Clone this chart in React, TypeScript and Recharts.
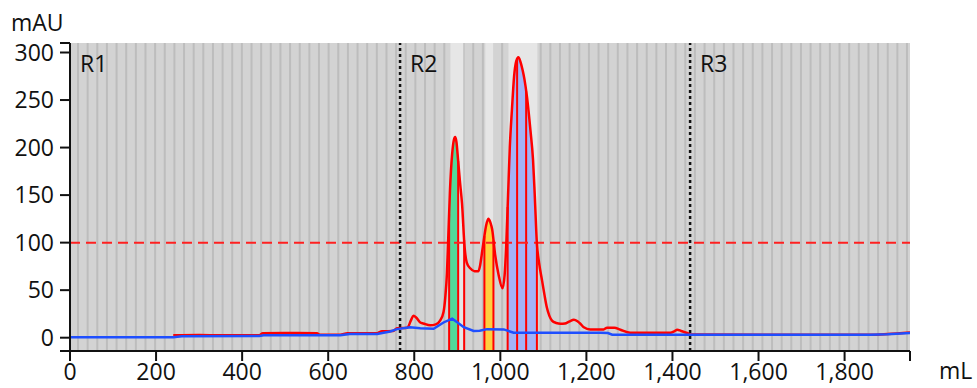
import { Area, ComposedChart, Line, ReferenceArea, ReferenceLine, XAxis, YAxis } from "recharts";

// UV trace (red), mL vs mAU
const uvMl = [
  240, 300, 350, 400, 440, 448, 500, 574, 580, 628, 645, 714, 725, 751, 760, 784, 792, 798, 805, 814,
  821, 837, 850, 860, 868, 872, 876, 879, 883, 888, 892, 895, 898, 902, 906, 911, 917, 922, 930, 940,
  949, 953, 957, 962, 967, 972, 977, 981, 988, 996, 1005, 1010, 1014, 1018, 1022, 1027, 1032, 1037,
  1042, 1047, 1052, 1056, 1062, 1070, 1076, 1080, 1085, 1090, 1097, 1103, 1108, 1114, 1120, 1130,
  1140, 1150, 1160, 1171, 1180, 1186, 1194, 1209, 1240, 1248, 1265, 1279, 1302, 1395, 1405, 1411,
  1420, 1434, 1442, 1860, 1900, 1952,
];
const uvMau = [
  2.5, 2.8, 2.5, 2.7, 2.6, 4.8, 5, 4.8, 3.2, 3.1, 4.8, 4.8, 6.8, 7, 10, 10.5, 18, 23, 21, 16,
  15, 13, 14, 18, 27, 42, 68, 105, 155, 193, 208, 211, 206, 186, 165, 141, 95, 79, 73, 70,
  70, 76, 88, 104, 118, 125, 121, 114, 87, 66, 52, 66, 100, 150, 200, 240, 275, 291,
  295, 290, 281, 272, 253, 218, 187, 150, 99, 79, 60, 44, 32, 23, 18, 15.5,
  14.7, 15, 17, 19, 17, 14.7, 11, 8.7, 8.7, 10.5, 10.5, 8.4, 5.3, 5.3, 7, 8.4,
  7, 5, 3.3, 3, 3.8, 5.5,
];

// second trace (blue)
const condMl = [0, 240, 260, 440, 450, 628, 650, 714, 744, 760, 790, 814, 845, 868, 888, 899, 915, 938, 952, 969, 1008, 1031, 1233, 1250, 1260, 1860, 1900, 1952];
const condMau = [0.4, 0.4, 1.5, 1.8, 2.5, 2.5, 3.8, 3.8, 6.5, 9, 11, 10, 9.4, 16, 20, 16.4, 11, 7, 7.4, 9, 8.7, 5.2, 5.2, 4.9, 3.1, 3, 3.5, 5];

const xTicks = [0, 200, 400, 600, 800, 1000, 1200, 1400, 1600, 1800];
const yTicks = [0, 50, 100, 150, 200, 250, 300];

const pooledBands = [
  [884, 914],
  [965, 984],
  [1019, 1086],
];
const peakFills = [
  { from: 881, to: 902, color: "#52d99a" },
  { from: 963, to: 984, color: "#ffcf3f" },
  { from: 1017, to: 1085, color: "#a3b3f7" },
];
const cutMl = [881, 902, 916, 963, 984, 1017, 1039, 1060, 1085];
const regions = [
  { label: "R1", ml: 0 },
  { label: "R2", ml: 767 },
  { label: "R3", ml: 1441 },
];
const THRESHOLD = 100;

const FRACTION_START = 18.6;
const FRACTION_SIZE = 22.4;
const X_MAX = 1952;
const Y_MIN = -14;
const Y_MAX = 310;

const FONT = "'Open Sans', 'Noto Sans', sans-serif";
const FONT_SIZE = 23;

const uvData = uvMl.map((ml, i) => ({ ml, v: uvMau[i] }));
const condData = condMl.map((ml, i) => ({ ml, v: condMau[i] }));

function uvAt(ml: number) {
  for (let i = 1; i < uvMl.length; i++) {
    if (uvMl[i] >= ml) {
      const t = (ml - uvMl[i - 1]) / (uvMl[i] - uvMl[i - 1]);
      return uvMau[i - 1] + t * (uvMau[i] - uvMau[i - 1]);
    }
  }
  return uvMau[uvMau.length - 1];
}

const fillData = peakFills.map((p) => [
  { ml: p.from, v: uvAt(p.from) },
  ...uvData.filter((d) => d.ml > p.from && d.ml < p.to),
  { ml: p.to, v: uvAt(p.to) },
]);

const fractionEdges: number[] = [];
for (let x = FRACTION_START; x < X_MAX; x += FRACTION_SIZE) fractionEdges.push(Math.round(x * 10) / 10);

const RegionLabel = (props: any) => {
  const { viewBox, value } = props;
  return (
    <text x={viewBox.x + 10} y={viewBox.y + 29} fontSize={FONT_SIZE} fontFamily={FONT} fill="#111">
      {value}
    </text>
  );
};

const tickStyle = { fill: "#111", fontSize: FONT_SIZE, fontFamily: FONT };

export default function App() {
  return (
    <div style={{ position: "absolute", left: 0, top: 0, width: 977, height: 388, background: "#fff" }}>
      <ComposedChart width={977} height={388} margin={{ top: 43, right: 67, bottom: 0, left: 0 }}>
        <XAxis
          type="number"
          dataKey="ml"
          domain={[0, X_MAX]}
          ticks={[...xTicks, X_MAX]}
          interval={0}
          tickFormatter={(v: number) => (v === X_MAX ? "" : v.toLocaleString("en-US"))}
          height={37}
          tickSize={10}
          tickMargin={3}
          tick={tickStyle}
          stroke="#111"
          strokeWidth={2}
          allowDataOverflow
        />
        <YAxis
          type="number"
          domain={[Y_MIN, Y_MAX]}
          ticks={[Y_MIN, ...yTicks, Y_MAX]}
          interval={0}
          tickFormatter={(v: number) => (v < 0 || v > 300 ? "" : String(v))}
          width={70}
          tickSize={10}
          tickMargin={6}
          tick={tickStyle}
          stroke="#111"
          strokeWidth={2}
          allowDataOverflow
        />
        <ReferenceArea x1={0} x2={X_MAX} y1={Y_MIN} y2={Y_MAX} fill="#d3d3d3" fillOpacity={1} stroke="none" zIndex={10} />
        {fractionEdges.map((x) => (
          <ReferenceLine key={"f" + x} x={x} stroke="#bdbdbd" strokeWidth={2} zIndex={20} />
        ))}
        {pooledBands.map(([a, b]) => (
          <ReferenceArea key={"p" + a} x1={a} x2={b} y1={Y_MIN} y2={Y_MAX} fill="#e6e6e6" fillOpacity={1} stroke="none" zIndex={30} />
        ))}
        {peakFills.map((p, i) => (
          <Area
            key={"a" + i}
            data={fillData[i]}
            dataKey="v"
            type="monotone"
            baseValue={Y_MIN}
            fill={p.color}
            fillOpacity={1}
            stroke="none"
            isAnimationActive={false}
            zIndex={100}
          />
        ))}
        {cutMl.map((x) => (
          <ReferenceLine
            key={"c" + x}
            segment={[
              { x, y: Y_MIN },
              { x, y: uvAt(x) },
            ]}
            stroke="#ff0000"
            strokeWidth={2}
            zIndex={150}
          />
        ))}
        <ReferenceLine y={THRESHOLD} stroke="#ff2020" strokeWidth={2} strokeDasharray="10 6" zIndex={160} />
        {regions.map((r) => (
          <ReferenceLine
            key={r.label}
            x={r.ml}
            stroke={r.ml === 0 ? "none" : "#111"}
            strokeWidth={2.5}
            strokeDasharray="3 3"
            zIndex={170}
            label={<RegionLabel value={r.label} />}
          />
        ))}
        <Line data={uvData} dataKey="v" type="monotone" stroke="#ff0000" strokeWidth={2.5} dot={false} isAnimationActive={false} zIndex={400} />
        <Line data={condData} dataKey="v" type="linear" stroke="#1f4fff" strokeWidth={2.5} dot={false} isAnimationActive={false} zIndex={410} />
      </ComposedChart>
      <svg width={977} height={388} style={{ position: "absolute", left: 0, top: 0, pointerEvents: "none" }}>
        <text x={11} y={31} fontSize={FONT_SIZE} fontFamily={FONT} fill="#111">
          mAU
        </text>
        <text x={939} y={379} fontSize={FONT_SIZE} fontFamily={FONT} fill="#111">
          mL
        </text>
      </svg>
    </div>
  );
}
